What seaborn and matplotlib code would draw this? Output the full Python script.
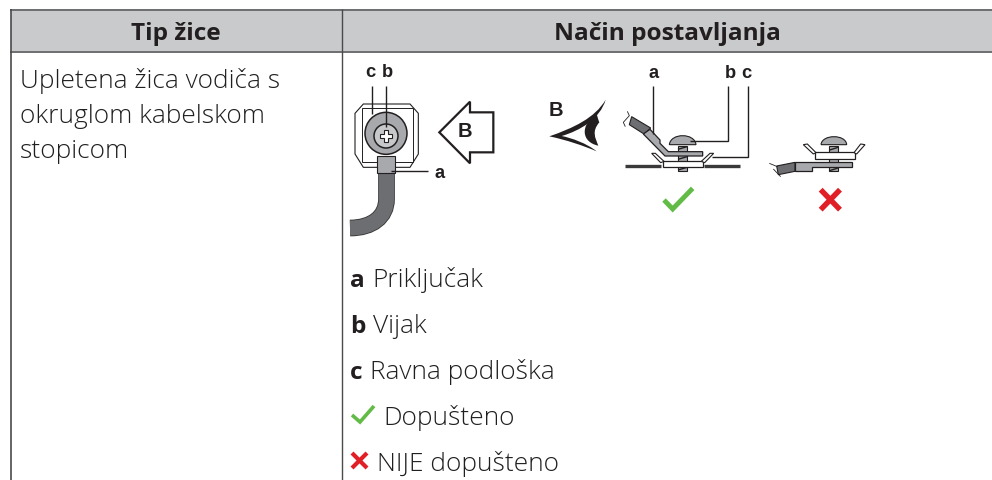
import matplotlib
matplotlib.use("Agg")
import matplotlib.pyplot as plt
from matplotlib.patches import Polygon, Rectangle, Circle, PathPatch
from matplotlib.path import Path
import seaborn as sns

# ---- content ----
header_labels = ["Tip žice", "Način postavljanja"]
wire_type_lines = ["Upletena žica vodiča s", "okruglom kabelskom", "stopicom"]
legend_keys = ["a", "b", "c"]
legend_names = ["Priključak", "Vijak", "Ravna podloška"]
allowed_label = "Dopušteno"
forbidden_label = "NIJE dopušteno"
callouts = ["a", "b", "c"]
view_label = "B"

# ---- colours ----
HEADER = "#c8cacb"
RULE = "#4a4a4a"
INK = "#231f20"
GREY = "#a7a9ac"
DARK = "#6d6e71"
GREEN = "#62bb46"
RED = "#e01f26"

sns.set_theme(style="white", rc={"axes.facecolor": "white", "figure.facecolor": "white"})
plt.rcParams["font.family"] = ["Open Sans", "DejaVu Sans"]

fig = plt.figure(figsize=(9.92, 4.81), dpi=100)
ax = fig.add_axes([0, 0, 1, 1])
ax.set_xlim(0, 992)
ax.set_ylim(481, 0)
ax.axis("off")
sns.despine(ax=ax, left=True, bottom=True)

BODY = 18.9
HEAD = 17.6
ARIAL = "Liberation Sans"
TXT = "#1f1f1f"


def line(pts, color=INK, lw=1.0, z=5, cap="butt"):
    xs, ys = zip(*pts)
    ax.plot(xs, ys, color=color, lw=lw, zorder=z, solid_capstyle=cap, solid_joinstyle="miter")


def poly(pts, fc="white", ec=INK, lw=0.9, z=4):
    ax.add_patch(Polygon(pts, closed=True, fc=fc, ec=ec, lw=lw, zorder=z, joinstyle="miter"))


def curve(verts, fc=INK, ec="none", lw=0, z=4):
    codes = [Path.MOVETO] + [Path.CURVE4] * (len(verts) - 1)
    ax.add_patch(PathPatch(Path(verts, codes), fc=fc, ec=ec, lw=lw, zorder=z))


def z1(p):
    return (345 + p[0] / 3, 55 + p[1] / 3)


def z2(p):
    return (540 + p[0] / 3, 55 + p[1] / 3)


def zl(pts, f):
    return [f(p) for p in pts]


# ---- table frame ----
ax.add_patch(Rectangle((11, 10), 981, 42, fc=HEADER, ec="none", zorder=1))
line([(10, 10.5), (992, 10.5)], "#6d6e70", 1.4, 2)
line([(10, 52.5), (992, 52.5)], "#6d6e70", 1.4, 2)
line([(11, 10), (11, 481)], RULE, 1.2, 2)
line([(342, 10), (342, 481)], RULE, 1.0, 2)

ax.text(176, 40.5, header_labels[0], ha="center", va="baseline", fontsize=HEAD, fontweight="bold", color=INK)
ax.text(667, 40.5, header_labels[1], ha="center", va="baseline", fontsize=HEAD, fontweight="bold", color=INK)

for txt, y in zip(wire_type_lines, [88, 123, 158]):
    ax.text(20, y, txt, ha="left", va="baseline", fontsize=BODY, fontweight="light", color=TXT)

# ---- legend text ----
for k, n, y, x in zip(legend_keys, legend_names, [287, 333, 379], [372, 373, 370]):
    ax.text(350, y, k, ha="left", va="baseline", fontsize=HEAD, fontweight="bold", color=INK)
    ax.text(x, y, n, ha="left", va="baseline", fontsize=BODY, fontweight="light", color=TXT)
ax.text(383, 425, allowed_label, ha="left", va="baseline", fontsize=BODY, fontweight="light", color=TXT)
ax.text(377, 471, forbidden_label, ha="left", va="baseline", fontsize=BODY, fontweight="light", color=TXT)
line([(352, 416), (360, 423), (374, 407)], GREEN, 2.6, 6)
line([(352, 454), (367, 469)], RED, 3.0, 6)
line([(367, 454), (352, 469)], RED, 3.0, 6)

# ---- left drawing: front view ----
poly(zl([(30, 178), (55, 150), (195, 150), (220, 178), (220, 300), (195, 340), (55, 340), (30, 300)], z1), lw=0.8, z=2)
ax.add_patch(Rectangle(z1((50, 163)), 155 / 3, 162 / 3, fc="white", ec=INK, lw=0.7, zorder=2))
ax.add_patch(Circle(z1((123, 238)), 21, fc=GREY, ec=INK, lw=1.1, zorder=3))
ax.add_patch(Circle(z1((123, 246)), 12, fc="#c7c8ca", ec=INK, lw=1.1, zorder=4))
c = z1((123, 246))
poly([(c[0] + dx, c[1] + dy) for dx, dy in
      [(-2, -6), (2, -6), (2, -2), (6, -2), (6, 2), (2, 2), (2, 6), (-2, 6), (-2, 2), (-6, 2), (-6, -2), (-2, -2)]],
     fc="white", lw=0.8, z=5)
ax.add_patch(Rectangle((377, 157), 18, 17, fc=GREY, ec=INK, lw=0.8, zorder=4))
# cable: stroked centre line, darker outline underneath
cable = Path([(386.5, 172), (386.5, 200), (386.5, 218), (372, 229), (350, 229)],
             [Path.MOVETO, Path.LINETO, Path.CURVE4, Path.CURVE4, Path.CURVE4])
ax.add_patch(PathPatch(cable, fc="none", ec="#333333", lw=12.0, capstyle="butt", zorder=3))
ax.add_patch(PathPatch(cable, fc="none", ec=DARK, lw=10.8, capstyle="butt", zorder=3.1))
line([(371.7, 87), (371.7, 115)], INK, 1.0, 6)
line([(386, 87), (386, 128)], INK, 1.0, 6)
line([(391, 171.5), (428, 171.5)], INK, 1.0, 6)
poly(zl([(283, 235), (375, 143), (375, 175), (445, 175), (445, 295), (375, 295), (375, 328)], z1), lw=1.6, z=3)

lab = dict(ha="center", va="center", fontsize=13.2, fontweight="bold", color=INK, family=ARIAL)
ax.text(370, 72.5, callouts[2], **lab)
ax.text(387.5, 72.5, callouts[1], **lab)
ax.text(440, 174, callouts[0], **lab)
ax.text(465, 132, view_label, ha="center", va="center", fontsize=14.5, fontweight="bold", color=INK, family=ARIAL)

# ---- eye ----
ax.text(556, 111, view_label, ha="center", va="center", fontsize=14.5, fontweight="bold", color=INK, family=ARIAL)
curve(zl([(28, 247), (100, 222), (165, 192), (197, 137), (180, 195), (120, 230), (65, 246),
          (95, 252), (140, 268), (170, 292), (130, 275), (80, 258), (28, 247)], z2))
curve(zl([(170, 178), (118, 215), (125, 265), (175, 275), (165, 250), (155, 232), (178, 205), (174, 195), (172, 188), (170, 178)], z2))

# ---- side view, correct ----
line(zl([(255, 336), (362, 336)], z2), "#3a3a3a", 2.4, 3)
line(zl([(492, 336), (600, 336)], z2), "#3a3a3a", 2.4, 3)
ax.add_patch(Rectangle(z2((413, 275)), 29 / 3, 77 / 3, fc=GREY, ec=INK, lw=0.8, zorder=2))
for yy in [282, 312, 344]:
    line(zl([(414, yy + 4), (441, yy - 4)], z2), INK, 1.0, 3)
poly(zl([(368, 320), (488, 320), (488, 340), (368, 340)], z2), lw=0.9, z=4)
poly(zl([(335, 298), (346, 298), (372, 322), (362, 326)], z2), lw=0.8, z=4)
poly(zl([(521, 298), (510, 298), (484, 322), (494, 326)], z2), lw=0.8, z=4)
poly(zl([(275, 188), (332, 222), (312, 240), (268, 212)], z2), fc=DARK, lw=0.8, z=3)
poly(zl([(330, 226), (360, 258), (360, 268), (385, 293), (488, 293), (488, 306), (375, 306), (310, 240)], z2),
     fc=GREY, lw=0.9, z=5)
curve(zl([(388, 272), (392, 236), (464, 236), (468, 272), (468, 272), (388, 272), (388, 272)], z2),
      fc=GREY, ec=INK, lw=0.8, z=5)
line(zl([(338, 95), (338, 240)], z2), INK, 1.0, 6)
line(zl([(563, 95), (563, 260), (450, 260)], z2), INK, 1.0, 6)
line(zl([(623, 95), (623, 308), (515, 308)], z2), INK, 1.0, 6)
line(zl([(262, 172), (268, 185), (250, 205), (256, 218)], z2), INK, 0.6, 6)

ax.text(*z2((340, 55)), callouts[0], **lab)
ax.text(*z2((570, 55)), callouts[1], **lab)
ax.text(*z2((620, 55)), callouts[2], **lab)

line(zl([(372, 438), (398, 465), (458, 403)], z2), GREEN, 3.5, 6)
line(zl([(842, 407), (900, 467)], z2), RED, 3.9, 6)
line(zl([(900, 407), (842, 467)], z2), RED, 3.9, 6)

# ---- side view, wrong ----
ax.add_patch(Rectangle(z2((868, 275)), 27 / 3, 77 / 3, fc=GREY, ec=INK, lw=0.8, zorder=2))
for yy in [284, 346]:
    line(zl([(869, yy + 4), (894, yy - 4)], z2), INK, 1.0, 3)
poly(zl([(825, 295), (945, 295), (945, 315), (825, 315)], z2), lw=0.9, z=4)
poly(zl([(790, 272), (802, 270), (828, 296), (820, 300)], z2), lw=0.8, z=4)
poly(zl([(975, 272), (962, 270), (942, 296), (950, 300)], z2), lw=0.8, z=4)
poly(zl([(710, 336), (765, 325), (765, 352), (715, 362)], z2), fc=DARK, lw=0.8, z=3)
poly(zl([(765, 325), (935, 325), (935, 340), (815, 340), (815, 352), (765, 352)], z2), fc=GREY, lw=0.9, z=5)
curve(zl([(843, 272), (846, 240), (918, 240), (920, 272), (920, 272), (843, 272), (843, 272)], z2),
      fc=GREY, ec=INK, lw=0.8, z=5)
line(zl([(688, 328), (712, 338)], z2), INK, 0.6, 6)
line(zl([(700, 345), (722, 368)], z2), INK, 0.6, 6)

fig.savefig("out.png", dpi=100)
